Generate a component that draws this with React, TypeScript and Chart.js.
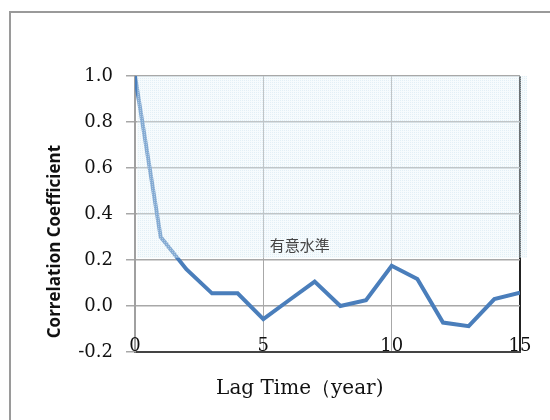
import { useEffect, useRef } from "react";
import { Chart, registerables } from "chart.js";

Chart.register(...registerables);

// Autocorrelation of the annual series against lag (years)
const LAG_YEARS = [0, 1, 2, 3, 4, 5, 6, 7, 8, 9, 10, 11, 12, 13, 14, 15];
const CORRELATION = [
  1.0, 0.3, 0.16, 0.055, 0.055, -0.057, 0.025, 0.106, 0.0, 0.025, 0.175, 0.117,
  -0.072, -0.088, 0.03, 0.058,
];

const X_MIN = 0;
const X_MAX = 15;
const X_STEP = 5;
const Y_MIN = -0.2;
const Y_MAX = 1.0;
const Y_STEP = 0.2;

// Correlations above this value are significant
const SIGNIFICANCE_LEVEL = 0.2;
const BAND_LABEL = "有意水準";
const BAND_LABEL_X = 5.25;
const BAND_LABEL_Y = 0.265;

const X_TITLE = "Lag Time（year)";
const Y_TITLE = "Correlation Coefficient";

const SERIF = '"DejaVu Serif", serif';

function fmt(v: number) {
  return (Math.abs(v) < 1e-9 ? 0 : v).toFixed(1);
}

function makeBandPattern(ctx: CanvasRenderingContext2D) {
  const tile = document.createElement("canvas");
  tile.width = 2;
  tile.height = 2;
  const t = tile.getContext("2d")!;
  t.fillStyle = "rgba(232,244,250,0.38)";
  t.fillRect(0, 0, 2, 2);
  t.fillStyle = "rgba(205,228,240,0.5)";
  t.fillRect(0, 0, 1, 1);
  return ctx.createPattern(tile, "repeat");
}

// Dotted band over the significant region, drawn above the line
const bandPlugin = {
  id: "significanceBand",
  afterDatasetsDraw(chart: any) {
    const { ctx, chartArea } = chart;
    const y = chart.scales.y;
    const x = chart.scales.x;
    const top = y.getPixelForValue(Y_MAX);
    const bottom = y.getPixelForValue(SIGNIFICANCE_LEVEL) - 2;
    const left = chartArea.left + 2;
    const right = chartArea.right + 7;
    ctx.save();
    ctx.fillStyle = makeBandPattern(ctx);
    ctx.fillRect(left, top, right - left, bottom - top);
    ctx.fillStyle = "#444";
    ctx.font = '15px "Noto Sans CJK JP", sans-serif';
    ctx.textAlign = "left";
    ctx.textBaseline = "middle";
    ctx.fillText(
      BAND_LABEL,
      x.getPixelForValue(BAND_LABEL_X),
      y.getPixelForValue(BAND_LABEL_Y)
    );
    ctx.restore();
  },
};

// Outer frame, x tick labels sitting just above the axis, axis titles
const framePlugin = {
  id: "frameAndTitles",
  beforeDraw(chart: any) {
    const { ctx } = chart;
    ctx.save();
    ctx.fillStyle = "#fff";
    ctx.fillRect(0, 0, chart.width, chart.height);
    ctx.strokeStyle = "#9a9a9a";
    ctx.lineWidth = 2;
    ctx.beginPath();
    ctx.moveTo(10, chart.height);
    ctx.lineTo(10, 12);
    ctx.lineTo(chart.width, 12);
    ctx.stroke();
    ctx.restore();
  },
  afterDraw(chart: any) {
    const { ctx, chartArea } = chart;
    const xScale = chart.scales.x;
    const w = chartArea.right - chartArea.left;
    const h = chartArea.bottom - chartArea.top;
    ctx.save();
    ctx.fillStyle = "#111";
    ctx.textAlign = "center";
    ctx.textBaseline = "alphabetic";
    ctx.font = `18px ${SERIF}`;
    for (const t of xScale.ticks) {
      ctx.fillText(String(t.value), xScale.getPixelForValue(t.value), chartArea.bottom - 1);
    }
    ctx.textBaseline = "middle";
    ctx.font = `20px ${SERIF}`;
    ctx.fillText(X_TITLE, chartArea.left + w * 0.428, chartArea.bottom + 37);
    ctx.translate(chartArea.left - 80, chartArea.top + h * 0.6);
    ctx.rotate(-Math.PI / 2);
    ctx.font = 'bold 17px "Open Sans", sans-serif';
    ctx.fillText(Y_TITLE, 0, 0);
    ctx.restore();
  },
};

export default function App() {
  const canvasRef = useRef<HTMLCanvasElement | null>(null);

  useEffect(() => {
    const canvas = canvasRef.current;
    if (!canvas) return;
    const chart = new Chart(canvas, {
      type: "line",
      data: {
        datasets: [
          {
            data: LAG_YEARS.map((lag, i) => ({ x: lag, y: CORRELATION[i] })),
            borderColor: "#4A7EBB",
            borderWidth: 4,
            pointRadius: 0,
            tension: 0,
            fill: false,
          },
        ],
      },
      options: {
        responsive: false,
        animation: false,
        devicePixelRatio: 1,
        layout: { padding: { left: 0, top: 76, right: 30, bottom: 0 } },
        plugins: {
          legend: { display: false },
          tooltip: { enabled: false },
          title: { display: false },
        },
        scales: {
          x: {
            type: "linear",
            min: X_MIN,
            max: X_MAX,
            afterFit: (scale: any) => {
              scale.height = 68;
            },
            ticks: {
              stepSize: X_STEP,
              display: false,
            },
            grid: {
              drawTicks: false,
              color: (c: any) => (c.tick && c.tick.value === X_MAX ? "#222" : "#a8a8a8"),
              lineWidth: (c: any) => (c.tick && c.tick.value === X_MAX ? 2 : 1),
            },
            border: { color: "#444", width: 2 },
          },
          y: {
            min: Y_MIN,
            max: Y_MAX,
            afterFit: (scale: any) => {
              scale.width = 135;
            },
            ticks: {
              stepSize: Y_STEP,
              padding: 13,
              color: "#111",
              font: { family: SERIF, size: 18 },
              callback: (v: any) => fmt(Number(v)),
            },
            grid: {
              color: "#a8a8a8",
              tickLength: 9,
              lineWidth: 1.5,
            },
            border: { color: "#a0a0a0", width: 2 },
          },
        },
      },
      plugins: [bandPlugin, framePlugin],
    });
    return () => chart.destroy();
  }, []);

  return (
    <div style={{ position: "fixed", left: 0, top: 0, width: 550, height: 420 }}>
      <canvas ref={canvasRef} width={550} height={420} style={{ display: "block" }} />
    </div>
  );
}
